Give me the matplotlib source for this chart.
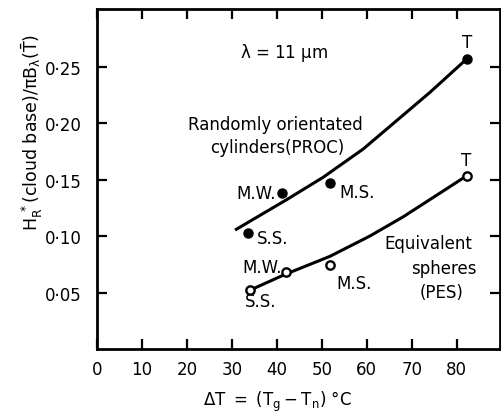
import matplotlib
matplotlib.use("Agg")
import matplotlib.pyplot as plt
from matplotlib import font_manager

# pick a narrow face for the tick numbers when one is installed
installed = {f.name for f in font_manager.fontManager.ttflist}
NUM_FONT = "Liberation Sans Narrow" if "Liberation Sans Narrow" in installed else "DejaVu Sans"
plt.rcParams["font.family"] = ["DejaVu Sans"]
plt.rcParams["mathtext.fontset"] = "dejavusans"

# --- data ---
x_ticks = [0, 10, 20, 30, 40, 50, 60, 70, 80]
y_ticks = [0.05, 0.10, 0.15, 0.20, 0.25]
y_tick_labels = ["0·05", "0·10", "0·15", "0·20", "0·25"]

site_names = ["S.S.", "M.W.", "M.S.", "T"]

# randomly orientated cylinders (PROC), filled symbols
proc_dt = [33.6, 41.1, 51.8, 82.3]
proc_h = [0.103, 0.138, 0.147, 0.257]
proc_curve_dt = [31.0, 42.1, 50.3, 59.2, 66.6, 74.0, 82.3]
proc_curve_h = [0.106, 0.132, 0.152, 0.177, 0.202, 0.227, 0.257]

# equivalent spheres (PES), open symbols
pes_dt = [34.0, 42.0, 51.8, 82.2]
pes_h = [0.052, 0.068, 0.0746, 0.153]
pes_curve_dt = [34.0, 41.8, 51.8, 60.7, 68.1, 75.5, 82.1]
pes_curve_h = [0.052, 0.066, 0.082, 0.100, 0.117, 0.136, 0.153]

# label offsets (points) and alignment per site
proc_lbl = {"S.S.": ((6.5, -3.6), "left"), "M.W.": ((-4.3, 0), "right"),
            "M.S.": ((7, -6.5), "left"), "T": ((0, 12), "center")}
pes_lbl = {"S.S.": ((-3.6, -7.5), "left"), "M.W.": ((-3, 3.6), "right"),
           "M.S.": ((5, -13), "left"), "T": ((0, 12), "center")}

fig = plt.figure(figsize=(5.01, 4.14), dpi=100)
ax = fig.add_axes([0.1936, 0.1546, 0.804, 0.8212])

ax.plot(proc_curve_dt, proc_curve_h, color="black", lw=2.2, zorder=2)
ax.plot(pes_curve_dt, pes_curve_h, color="black", lw=2.2, zorder=2)
ax.plot(proc_dt, proc_h, "o", color="black", ms=6.5, zorder=3)
ax.plot(pes_dt, pes_h, "o", mfc="white", mec="black", mew=1.7, ms=6, zorder=3)

for name, x, y in zip(site_names, proc_dt, proc_h):
    off, ha = proc_lbl[name]
    ax.annotate(name, (x, y), xytext=off, textcoords="offset points",
                ha=ha, va="center", fontsize=12)
for name, x, y in zip(site_names, pes_dt, pes_h):
    off, ha = pes_lbl[name]
    ax.annotate(name, (x, y), xytext=off, textcoords="offset points",
                ha=ha, va="center", fontsize=12)

ax.text(41.6, 0.263, r"$\mathregular{\lambda}$ = 11 $\mathregular{\mu}$m", ha="center", va="center", fontsize=12)
ax.text(39.6, 0.199, "Randomly orientated", ha="center", va="center", fontsize=12)
ax.text(40.0, 0.1785, "cylinders(PROC)", ha="center", va="center", fontsize=12)
ax.text(73.8, 0.094, "Equivalent", ha="center", va="center", fontsize=12)
ax.text(77.1, 0.072, "spheres", ha="center", va="center", fontsize=12)
ax.text(76.7, 0.0506, "(PES)", ha="center", va="center", fontsize=12)

ax.set_xlim(0, 89.6)
ax.set_ylim(0, 0.301)
ax.set_xticks(x_ticks)
ax.set_xticklabels([str(v) for v in x_ticks], fontfamily=NUM_FONT, fontsize=12)
ax.set_yticks(y_ticks)
ax.set_yticklabels(y_tick_labels, fontfamily=NUM_FONT, fontsize=12)
ax.tick_params(direction="in", length=7, width=1.6, top=True, right=True, pad=8)
ax.tick_params(axis="y", pad=11)
for sp in ax.spines.values():
    sp.set_linewidth(2.0)

ax.set_xlabel(r"$\mathregular{\Delta T\ =\ (T_g - T_n)\ °C}$", fontsize=12)
ax.xaxis.set_label_coords(0.449, -0.118)
ax.set_ylabel(r"$\mathregular{H_R^{\ *}(cloud\ base)/\pi B_\lambda(\bar{T})}$", fontsize=12.5)
ax.yaxis.set_label_coords(-0.128, 0.64)

fig.savefig("out.png", dpi=100)
